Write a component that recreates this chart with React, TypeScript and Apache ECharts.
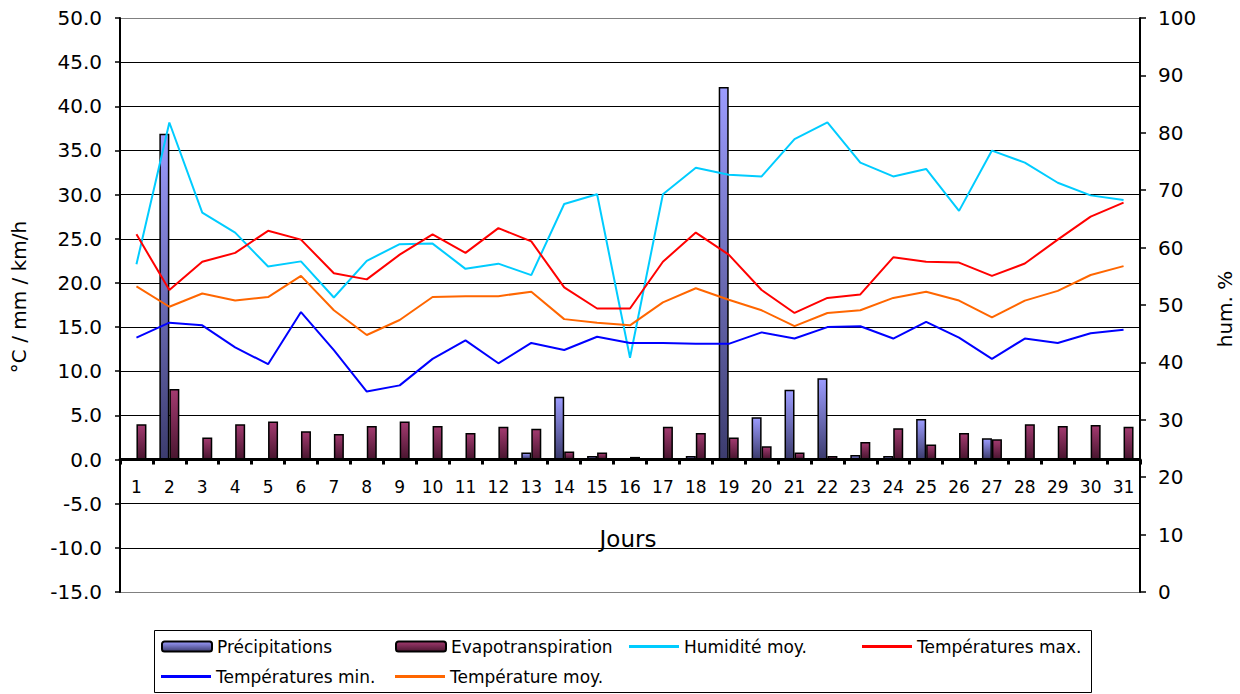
import React, { useEffect, useRef } from "react";
import * as echarts from "echarts";

const days = ["1","2","3","4","5","6","7","8","9","10","11","12","13","14","15","16","17","18","19","20","21","22","23","24","25","26","27","28","29","30","31"];
const precipitations = [0, 36.9, 0, 0, 0, 0, 0, 0, 0, 0, 0, 0, 0.8, 7.1, 0.4, 0, 0, 0.4, 42.2, 4.8, 7.9, 9.2, 0.5, 0.4, 4.6, 0, 2.4, 0.15, 0, 0, 0];
const evapotranspiration = [4.0, 8.0, 2.5, 4.0, 4.3, 3.2, 2.9, 3.8, 4.3, 3.8, 3.0, 3.7, 3.5, 0.9, 0.8, 0.3, 3.7, 3.0, 2.5, 1.5, 0.8, 0.4, 2.0, 3.55, 1.7, 3.0, 2.3, 4.0, 3.8, 3.9, 3.7];
const humidite = [57.1, 81.8, 66.1, 62.6, 56.7, 57.6, 51.3, 57.7, 60.6, 60.7, 56.3, 57.2, 55.2, 67.6, 69.3, 40.8, 69.3, 73.9, 72.7, 72.4, 78.9, 81.8, 74.8, 72.4, 73.7, 66.4, 76.9, 74.8, 71.3, 69.1, 68.3];
const tempMax = [25.5, 19.2, 22.4, 23.4, 25.9, 24.9, 21.1, 20.4, 23.2, 25.5, 23.4, 26.2, 24.7, 19.5, 17.1, 17.1, 22.4, 25.7, 23.2, 19.2, 16.6, 18.3, 18.7, 22.9, 22.4, 22.3, 20.8, 22.2, 24.9, 27.5, 29.1];
const tempMin = [13.8, 15.5, 15.2, 12.7, 10.8, 16.7, 12.4, 7.7, 8.4, 11.4, 13.5, 10.9, 13.2, 12.4, 13.9, 13.2, 13.2, 13.1, 13.1, 14.4, 13.7, 15.0, 15.1, 13.7, 15.6, 13.8, 11.4, 13.7, 13.2, 14.3, 14.7];
const tempMoy = [19.6, 17.3, 18.8, 18.0, 18.4, 20.8, 16.9, 14.1, 15.8, 18.4, 18.5, 18.5, 19.0, 15.9, 15.5, 15.2, 17.8, 19.4, 18.1, 16.9, 15.1, 16.6, 16.9, 18.3, 19.0, 18.0, 16.1, 18.0, 19.1, 20.9, 21.9];

const FONT = "DejaVu Sans";

export default function App() {
  const ref = useRef<HTMLDivElement>(null);
  useEffect(() => {
    if (!ref.current) return;
    const chart = echarts.init(ref.current, undefined, { renderer: "svg" });
    const grad = (a: string, b: string) =>
      new echarts.graphic.LinearGradient(0, 0, 0, 1, [
        { offset: 0, color: a },
        { offset: 1, color: b },
      ]);
    const splitColors = ["#808080"].concat(Array(12).fill("#000000")).concat(["#808080"]);
    const legendItem = (name: string, left: number, top: number, isLine: boolean) => ({
      data: isLine ? [{ name, icon: "rect" }] : [name],
      left,
      top,
      padding: 0,
      itemWidth: 50,
      itemHeight: isLine ? 3 : 10,
      selectedMode: false,
      textStyle: { fontFamily: FONT, fontSize: 17, color: "#000" },
    });
    const gridTop = 18;
    const gridHeight = 574;
    const yMin = -15;
    const yMax = 50;
    const zeroOffset = -gridHeight * (0 - yMin) / (yMax - yMin);
    const option: any = {
      animation: false,
      backgroundColor: "#ffffff",
      textStyle: { fontFamily: FONT },
      grid: { left: 120, top: gridTop, width: 1020, height: gridHeight },
      legend: [
        legendItem("Précipitations", 161, 638, false),
        legendItem("Evapotranspiration", 395, 638, false),
        legendItem("Humidité moy.", 629, 638, true),
        legendItem("Températures max.", 862, 638, true),
        legendItem("Températures min.", 161, 668, true),
        legendItem("Température moy.", 395, 668, true),
      ],
      xAxis: {
        type: "category",
        data: days,
        position: "bottom",
        offset: zeroOffset,
        boundaryGap: true,
        axisLine: { show: true, onZero: false, lineStyle: { color: "#000", width: 3 } },
        axisTick: { show: true, length: 5, lineStyle: { color: "#000", width: 3 } },
        axisLabel: { margin: 19, fontSize: 17, color: "#000", fontFamily: FONT },
        splitLine: { show: false },
      },
      yAxis: [
        {
          type: "value",
          min: yMin,
          max: yMax,
          interval: 5,
          axisLine: { show: true, lineStyle: { color: "#000", width: 2 } },
          axisTick: { show: true, length: 5, lineStyle: { color: "#000", width: 1.5 } },
          axisLabel: {
            margin: 18,
            fontSize: 20,
            color: "#000",
            fontFamily: FONT,
            formatter: (v: number) => v.toFixed(1),
          },
          splitLine: { show: true, lineStyle: { color: splitColors, width: 1 } },
        },
        {
          type: "value",
          min: 0,
          max: 100,
          interval: 10,
          axisLine: { show: true, lineStyle: { color: "#000", width: 2 } },
          axisTick: { show: true, length: 6, lineStyle: { color: "#000", width: 1.5 } },
          axisLabel: { margin: 18, fontSize: 20, color: "#000", fontFamily: FONT },
          splitLine: { show: false },
        },
      ],
      graphic: [
        {
          type: "text",
          x: 628,
          y: 539,
          style: { text: "Jours", fontSize: 23, fontFamily: FONT, fill: "#000", align: "center", verticalAlign: "middle" },
        },
        {
          type: "text",
          x: 19,
          y: 297,
          rotation: Math.PI / 2,
          style: { text: "°C / mm / km/h", fontSize: 20, fontFamily: FONT, fill: "#000", align: "center", verticalAlign: "middle" },
        },
        {
          type: "text",
          x: 1225,
          y: 309,
          rotation: Math.PI / 2,
          style: { text: "hum. %", fontSize: 20, fontFamily: FONT, fill: "#000", align: "center", verticalAlign: "middle" },
        },
        {
          type: "rect",
          shape: { x: 154.5, y: 630.5, width: 937, height: 62 },
          style: { fill: "none", stroke: "#000", lineWidth: 1 },
          z: -1,
        },
      ],
      series: [
        {
          name: "Précipitations",
          type: "bar",
          yAxisIndex: 0,
          data: precipitations,
          barWidth: 10,
          barGap: "0%",
          itemStyle: { color: grad("#9c9cff", "#3c3c6e"), borderColor: "#000", borderWidth: 1.5 },
        },
        {
          name: "Evapotranspiration",
          type: "bar",
          yAxisIndex: 0,
          data: evapotranspiration,
          barWidth: 10,
          barGap: "0%",
          itemStyle: { color: grad("#a33a70", "#4a1630"), borderColor: "#000", borderWidth: 1.5 },
        },
        {
          name: "Humidité moy.",
          type: "line",
          yAxisIndex: 1,
          data: humidite,
          symbol: "none",
          lineStyle: { color: "#00ccff", width: 2 },
          itemStyle: { color: "#00ccff" },
        },
        {
          name: "Températures max.",
          type: "line",
          yAxisIndex: 0,
          data: tempMax,
          symbol: "none",
          lineStyle: { color: "#ff0000", width: 2 },
          itemStyle: { color: "#ff0000" },
        },
        {
          name: "Températures min.",
          type: "line",
          yAxisIndex: 0,
          data: tempMin,
          symbol: "none",
          lineStyle: { color: "#0000ff", width: 2 },
          itemStyle: { color: "#0000ff" },
        },
        {
          name: "Température moy.",
          type: "line",
          yAxisIndex: 0,
          data: tempMoy,
          symbol: "none",
          lineStyle: { color: "#ff6600", width: 2 },
          itemStyle: { color: "#ff6600" },
        },
      ],
    };
    chart.setOption(option);
    return () => chart.dispose();
  }, []);
  return (
    <div
      ref={ref}
      style={{ position: "fixed", left: 0, top: 0, width: 1240, height: 694, background: "#fff" }}
    />
  );
}
